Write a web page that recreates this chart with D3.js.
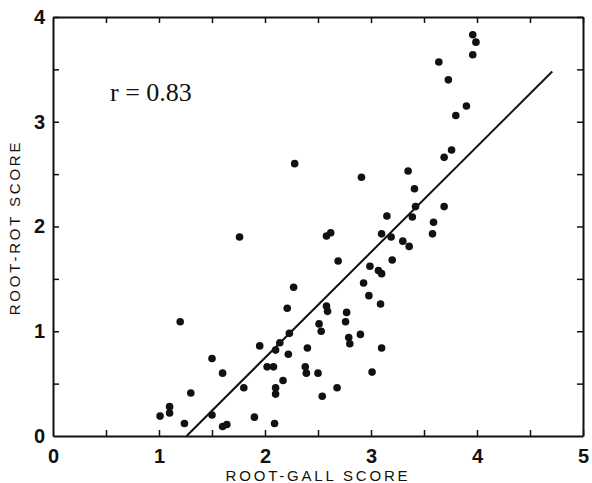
<!DOCTYPE html>
<html>
<head>
<meta charset="utf-8">
<script src="https://cdn.jsdelivr.net/npm/d3@7"></script>
<style>
  body { margin: 0; background: #fff; }
  .tick text { font-family: "Liberation Sans", Arial, sans-serif; font-weight: bold; font-size: 20px; fill: #111; }
  .domain { stroke: #111; stroke-width: 2; }
  .tick line { stroke: #111; stroke-width: 1.5; }
</style>
</head>
<body>
<div id="chart"></div>
<script>
// root-gall score (x) vs root-rot score (y), one entry per plot
var gallScore = [1.01, 1.10, 1.10, 1.20, 1.24, 1.30, 1.50, 1.50, 1.60, 1.60,
  1.64, 1.80, 1.90, 1.95, 2.02, 2.08, 2.10, 2.14, 2.10, 2.10,
  2.17, 2.09, 2.22, 2.23, 2.21, 2.27, 2.28, 1.76, 2.38, 2.39,
  2.40, 2.50, 2.51, 2.53, 2.54, 2.58, 2.59, 2.68, 2.69, 2.58,
  2.62, 2.77, 2.76, 2.79, 2.80, 2.90, 2.93, 2.98, 2.99, 3.01,
  3.07, 3.10, 3.09, 3.10, 3.20, 2.91, 3.10, 3.19, 3.15, 3.30,
  3.36, 3.35, 3.41, 3.42, 3.39, 3.58, 3.59, 3.69, 3.69, 3.76,
  3.80, 3.90, 3.64, 3.73, 3.96, 3.99, 3.96];
var rotScore = [0.19, 0.28, 0.22, 1.09, 0.12, 0.41, 0.74, 0.20, 0.60, 0.09,
  0.11, 0.46, 0.18, 0.86, 0.66, 0.66, 0.82, 0.89, 0.46, 0.40,
  0.53, 0.12, 0.78, 0.98, 1.22, 1.42, 2.60, 1.90, 0.66, 0.60,
  0.84, 0.60, 1.07, 1.00, 0.38, 1.24, 1.19, 0.46, 1.67, 1.91,
  1.94, 1.18, 1.09, 0.94, 0.88, 0.97, 1.46, 1.34, 1.62, 0.61,
  1.58, 1.55, 1.26, 0.84, 1.68, 2.47, 1.93, 1.90, 2.10, 1.86,
  1.81, 2.53, 2.36, 2.19, 2.09, 1.93, 2.04, 2.19, 2.66, 2.73,
  3.06, 3.15, 3.57, 3.40, 3.83, 3.76, 3.64];

// regression line ends
var fitX = [1.26, 4.71];
var fitY = [0, 3.48];

var xTicks = [0, 0.5, 1, 1.5, 2, 2.5, 3, 3.5, 4, 4.5, 5];
var yTicks = [0, 0.5, 1, 1.5, 2, 2.5, 3, 3.5, 4];
var rLabel = "r = 0.83";

var margin = {top: 17, right: 9, bottom: 47, left: 53};
var width = 592 - margin.left - margin.right;
var height = 483 - margin.top - margin.bottom;

var x = d3.scaleLinear().domain([0, 5]).range([0, width]);
var y = d3.scaleLinear().domain([0, 4]).range([height, 0]);

var intOnly = function (d) { return d % 1 === 0 ? d : ""; };

var svg = d3.select("#chart").append("svg")
    .attr("width", 592)
    .attr("height", 483)
  .append("g")
    .attr("transform", "translate(" + margin.left + "," + margin.top + ")");

// bottom + left axes carry labels, ticks point inward
svg.append("g")
    .attr("transform", "translate(0," + height + ")")
    .call(d3.axisBottom(x).tickValues(xTicks).tickFormat(intOnly).tickSizeInner(-6).tickSizeOuter(0).tickPadding(9))
    .selectAll("text").attr("dy", "0.9em");

svg.append("g")
    .call(d3.axisLeft(y).tickValues(yTicks).tickFormat(intOnly).tickSizeInner(-6).tickSizeOuter(0).tickPadding(8));

// top + right just close the frame
svg.append("g")
    .call(d3.axisTop(x).tickValues(xTicks).tickFormat("").tickSizeInner(-6).tickSizeOuter(0));

svg.append("g")
    .attr("transform", "translate(" + width + ",0)")
    .call(d3.axisRight(y).tickValues(yTicks).tickFormat("").tickSizeInner(-6).tickSizeOuter(0));

svg.selectAll(".tick line").filter(function (d) { return d === 0; }).remove();

svg.append("line")
    .attr("x1", x(fitX[0])).attr("y1", y(fitY[0]))
    .attr("x2", x(fitX[1])).attr("y2", y(fitY[1]))
    .attr("stroke", "#111")
    .attr("stroke-width", 2);

svg.selectAll("circle")
    .data(gallScore)
  .enter().append("circle")
    .attr("cx", function (d) { return x(d); })
    .attr("cy", function (d, i) { return y(rotScore[i]); })
    .attr("r", 3.8)
    .attr("fill", "#111");

svg.append("text")
    .attr("x", 57)
    .attr("y", 84)
    .style("font-family", "'Liberation Serif', 'Times New Roman', serif")
    .style("font-size", "26px")
    .attr("fill", "#111")
    .text(rLabel);

svg.append("text")
    .attr("x", width / 2)
    .attr("y", height + 45)
    .attr("text-anchor", "middle")
    .style("font-family", "'Liberation Sans', Arial, sans-serif")
    .style("font-size", "15px")
    .style("letter-spacing", "2.8px")
    .attr("fill", "#111")
    .text("ROOT-GALL SCORE");

svg.append("text")
    .attr("transform", "translate(" + (-33) + "," + (height / 2 + 1) + ") rotate(-90)")
    .attr("text-anchor", "middle")
    .style("font-family", "'Liberation Sans', Arial, sans-serif")
    .style("font-size", "15px")
    .style("letter-spacing", "2.8px")
    .attr("fill", "#111")
    .text("ROOT-ROT SCORE");
</script>
</body>
</html>
